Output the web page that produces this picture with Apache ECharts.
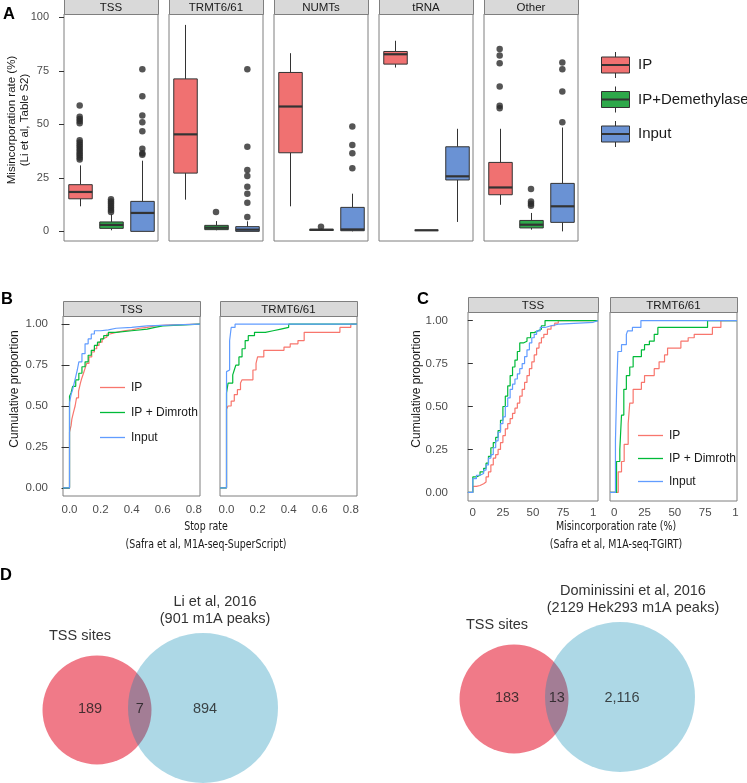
<!DOCTYPE html>
<html><head><meta charset="utf-8">
<script src="https://cdn.jsdelivr.net/npm/echarts@6/dist/echarts.min.js"></script>
<style>html,body{margin:0;padding:0;background:#fff}#c{width:747px;height:783px}</style>
</head><body><div id="c"></div><script>
// ---------- Panel A data ----------
const facetsA = ['TSS', 'TRMT6/61', 'NUMTs', 'tRNA', 'Other'];
const groupsA = ['IP', 'IP+Demethylase', 'Input'];
// [lower whisker, Q1, median, Q3, upper whisker] for IP, IP+Demethylase, Input
const boxTSS   = [[11.7, 15.2, 18.4, 21.8, 30.8], [0.5, 1.4, 3.0, 4.4, 8.0], [0, 0, 8.6, 14.0, 33.0]];
const boxTRMT  = [[14.8, 27.2, 45.3, 71.2, 96.4], [0.5, 0.8, 1.7, 2.8, 4.8], [0, 0, 0.8, 2.2, 4.7]];
const boxNUMT  = [[11.7, 36.7, 58.3, 74.2, 83.2], [0.2, 0.4, 0.7, 1.0, 1.3], [0, 0.3, 0.9, 11.2, 17.6]];
const boxTRNA  = [[76.5, 78.1, 82.7, 84.0, 89.0], [0.5, 0.5, 0.5, 0.5, 0.5], [4.4, 24.0, 25.7, 39.5, 47.9]];
const boxOther = [[12.4, 17.1, 20.5, 32.2, 47.9], [0.8, 1.6, 3.1, 5.1, 8.6], [0, 4.2, 11.7, 22.4, 48.5]];
const outTSS   = [[58.8, 53.5, 52.5, 51.5, 50.5, 42.5, 41.5, 40.5, 39.5, 38.5, 37.5, 36.5, 35.5, 34.5, 33.5], [15, 14, 13, 12, 11, 10, 9], [75.7, 63.1, 54.1, 50.9, 46.7, 38.6, 36.5, 35.8]];
const outTRMT  = [[], [9.0], [75.7, 39.5, 28.6, 25.8, 20.8, 17.6, 13.4, 6.7]];
const outNUMT  = [[], [2.2], [49.0, 40.3, 36.5, 29.5]];
const outTRNA  = [[], [], []];
const outOther = [[85.1, 82.1, 78.5, 67.7, 58.6, 57.5], [19.8, 14.0, 12.9, 12.0], [78.8, 75.7, 65.3, 50.9]];
const ticksA = [0, 25, 50, 75, 100];
const yTitleA = 'Misincorporation rate (%)\n(Li et al, Table S2)';

// ---------- Panels B & C data ----------
const facetsBC = ['TSS', 'TRMT6/61'];
const linesBC = ['IP', 'IP + Dimroth', 'Input'];
const bTssIP = [[0,0.34],[0.01,0.38],[0.015,0.42],[0.025,0.46],[0.036,0.5],[0.045,0.55],[0.058,0.59],[0.07,0.64],[0.079,0.67],[0.09,0.7],[0.1,0.73],[0.11,0.76],[0.125,0.8],[0.143,0.83],[0.16,0.85],[0.175,0.87],[0.19,0.89],[0.21,0.91],[0.22,0.92],[0.24,0.94],[0.26,0.95],[0.3,0.96],[0.35,0.965],[0.4,0.975],[0.45,0.98],[0.5,0.99],[0.55,0.995],[0.62,1.0]];
const bTssDim = [[0,0.56],[0.01,0.58],[0.02,0.62],[0.04,0.66],[0.06,0.7],[0.08,0.74],[0.1,0.77],[0.12,0.81],[0.14,0.84],[0.16,0.87],[0.18,0.89],[0.2,0.91],[0.22,0.93],[0.25,0.95],[0.3,0.96],[0.4,0.97],[0.5,0.98],[0.55,0.99],[0.6,1.0]];
const bTssInput = [[0,0.52],[0.01,0.57],[0.02,0.6],[0.03,0.64],[0.04,0.68],[0.05,0.72],[0.06,0.77],[0.08,0.82],[0.1,0.88],[0.12,0.91],[0.14,0.94],[0.16,0.96],[0.2,0.965],[0.25,0.975],[0.3,0.98],[0.4,0.985],[0.45,0.99],[0.5,1.0]];
const bTrmtIP = [[0,0.48],[0.01,0.5],[0.03,0.53],[0.05,0.57],[0.07,0.6],[0.09,0.64],[0.1,0.66],[0.17,0.72],[0.19,0.76],[0.2,0.8],[0.24,0.84],[0.37,0.86],[0.41,0.88],[0.46,0.9],[0.5,0.95],[0.73,0.98],[0.8,1.0]];
const bTrmtDim = [[0,0.58],[0.01,0.64],[0.04,0.69],[0.05,0.72],[0.06,0.75],[0.08,0.8],[0.1,0.85],[0.12,0.9],[0.14,0.93],[0.18,0.95],[0.25,0.96],[0.3,0.97],[0.35,0.98],[0.4,1.0]];
const bTrmtInput = [[0,0.71],[0.01,0.72],[0.02,0.9],[0.03,0.98],[0.055,1.0]];
const cTssIP = [[0,0.035],[3,0.04],[6,0.05],[9,0.06],[11,0.09],[13,0.12],[15,0.16],[17,0.2],[19,0.22],[21,0.25],[23,0.29],[25,0.33],[27,0.37],[29,0.4],[31,0.43],[33,0.46],[35,0.49],[37,0.52],[39,0.56],[41,0.6],[43,0.64],[45,0.68],[47,0.72],[49,0.76],[51,0.8],[53,0.84],[55,0.87],[57,0.9],[59,0.92],[62,0.95],[65,0.97],[68,0.985],[71,1.0]];
const cTssDim = [[0,0.09],[3,0.1],[6,0.12],[9,0.14],[11,0.17],[13,0.21],[15,0.26],[17,0.29],[19,0.32],[21,0.36],[23,0.42],[25,0.5],[27,0.56],[29,0.62],[31,0.68],[33,0.73],[35,0.77],[37,0.82],[39,0.87],[42,0.88],[45,0.9],[48,0.93],[51,0.94],[54,0.95],[57,0.97],[60,1.0]];
const cTssInput = [[0,0.08],[3,0.1],[6,0.11],[9,0.13],[11,0.16],[13,0.2],[15,0.22],[17,0.26],[19,0.3],[21,0.35],[23,0.4],[25,0.44],[27,0.5],[29,0.55],[31,0.6],[33,0.63],[35,0.66],[37,0.69],[39,0.72],[41,0.75],[43,0.79],[45,0.83],[47,0.87],[49,0.9],[51,0.92],[53,0.94],[56,0.96],[60,0.97],[65,0.98],[72,0.99],[100,1.0]];
const cTrmtIP = [[3.3,0.12],[6,0.18],[8.2,0.28],[11.5,0.4],[12.8,0.52],[15.6,0.6],[22.4,0.64],[25,0.68],[33,0.72],[37,0.76],[41.5,0.8],[44,0.84],[55,0.88],[61,0.9],[66,0.92],[81,0.96],[88,1.0]];
const cTrmtDim = [[1.9,0.18],[4.6,0.25],[6,0.45],[7.9,0.6],[10,0.68],[12.8,0.73],[15.6,0.79],[22.4,0.83],[25,0.86],[29,0.88],[33,0.92],[36,0.96],[77,1.0]];
const cTrmtInput = [[1,0.3],[2,0.6],[3,0.82],[6,0.86],[10,0.92],[11,0.94],[15,0.96],[22,1.0]];
const ticksBx = [0, 0.2, 0.4, 0.6, 0.8];
const ticksCx = [0, 25, 50, 75, 100];
const ticksCxLabels = ['0', '25', '50', '75', '1'];
const ticksProp = [0, 0.25, 0.5, 0.75, 1];
const yTitleBC = 'Cumulative proportion';
const xTitleB = 'Stop rate\n(Safra et al, M1A-seq-SuperScript)';
const xTitleC = 'Misincorporation rate (%)\n(Safra et al, M1A-seq-TGIRT)';

// ---------- Panel D data ----------
const vennSetsL = ['TSS sites', 'Li et al, 2016\n(901 m1A peaks)'];
const vennCountsL = [189, 7, 894];
const vennSetsR = ['TSS sites', 'Dominissini et al, 2016\n(2129 Hek293 m1A peaks)'];
const vennCountsR = [183, 13, 2116];

const panelLetters = ['A', 'B', 'C', 'D'];

// ---------- styling / layout ----------
const FONT = "'Liberation Sans', Arial, Helvetica, sans-serif";
const NARROW = "'Liberation Sans Narrow', 'DejaVu Sans Condensed', 'Arial Narrow', sans-serif";
const fillA = ['#F07171', '#2EA84A', '#6A92D4'];
const lineColors = ['#F8766D', '#00BA38', '#619CFF'];
const BORDER = '#7f7f7f';

const grids = [], xAxes = [], yAxes = [], series = [], graphics = [];

function strip(x, y, w, h, label) {
  return { type: 'group', children: [
    { type: 'rect', shape: { x: x + 0.5, y: y + 0.5, width: w, height: h }, style: { fill: '#d9d9d9', stroke: BORDER, lineWidth: 1 } },
    { type: 'text', x: x + w / 2, y: y + h / 2 + 1, style: { text: label, fontSize: 11.5, fill: '#1a1a1a', align: 'center', verticalAlign: 'middle', fontFamily: FONT } }
  ] };
}

function renderBox(params, api) {
  const k = api.value(0);
  const lo = api.coord([k, api.value(1)]);
  const q1 = api.coord([k, api.value(2)]);
  const md = api.coord([k, api.value(3)]);
  const q3 = api.coord([k, api.value(4)]);
  const hi = api.coord([k, api.value(5)]);
  const bw = api.size([1, 0])[0] * 0.75;
  const x = Math.round(lo[0]) + 0.5;
  const line = (x1, y1, x2, y2, w) => ({ type: 'line', shape: { x1, y1, x2, y2 }, style: { stroke: '#333', lineWidth: w } });
  return { type: 'group', children: [
    line(x, lo[1], x, q1[1], 1),
    line(x, q3[1], x, hi[1], 1),
    { type: 'rect', shape: { x: x - bw / 2, y: q3[1], width: bw, height: Math.max(q1[1] - q3[1], 0) }, style: { fill: fillA[k], stroke: '#333', lineWidth: 1 } },
    line(x - bw / 2, md[1], x + bw / 2, md[1], 2.2)
  ] };
}

// Panel A
const boxesA = [boxTSS, boxTRMT, boxNUMT, boxTRNA, boxOther];
const outliersA = [outTSS, outTRMT, outNUMT, outTRNA, outOther];
for (let i = 0; i < facetsA.length; i++) {
  const gi = grids.length;
  const left = 64 + i * 105, width = 94;
  grids.push({ left, top: 14, width, height: 227, show: true, borderColor: BORDER, borderWidth: 1, backgroundColor: '#fff' });
  xAxes.push({ type: 'category', gridIndex: gi, data: groupsA, show: false });
  yAxes.push({ type: 'value', gridIndex: gi, min: -4.5, max: 101.5, show: i === 0,
    axisLine: { show: false }, splitLine: { show: false },
    axisTick: { show: true, customValues: ticksA, length: 5, lineStyle: { color: '#333' } },
    axisLabel: { customValues: ticksA, margin: 15, fontSize: 11, color: '#4d4d4d', fontFamily: FONT } });
  series.push({ type: 'custom', xAxisIndex: gi, yAxisIndex: gi, renderItem: renderBox,
    data: boxesA[i].map((b, k) => [k, ...b]), encode: { x: 0, y: [1, 2, 3, 4, 5] }, z: 2, silent: true });
  series.push({ type: 'scatter', xAxisIndex: gi, yAxisIndex: gi,
    data: outliersA[i].flatMap((arr, k) => arr.map(v => [k, v])), symbolSize: 6.5,
    itemStyle: { color: '#2b2b2b' }, z: 3, silent: true });
  graphics.push(strip(left, -1, width, 15, facetsA[i]));
}

// Legend A
groupsA.forEach((g, i) => {
  const cy = 65 + 34.5 * i;
  graphics.push({ type: 'group', children: [
    { type: 'line', shape: { x1: 615.5, y1: cy - 13, x2: 615.5, y2: cy + 13 }, style: { stroke: '#333', lineWidth: 1 } },
    { type: 'rect', shape: { x: 601.5, y: cy - 8, width: 28, height: 16 }, style: { fill: fillA[i], stroke: '#333', lineWidth: 1 } },
    { type: 'line', shape: { x1: 601.5, y1: cy, x2: 629.5, y2: cy }, style: { stroke: '#333', lineWidth: 2 } },
    { type: 'text', x: 638, y: cy, style: { text: g, fontSize: 15, fill: '#1a1a1a', verticalAlign: 'middle', fontFamily: FONT } }
  ] });
});

// Panels B & C
function ecdf(arr, xmin, xmax) {
  return [[xmin, 0], ...arr, [xmax, arr[arr.length - 1][1]]];
}
const panelsBC = [
  { left: 63, width: 137, top: 316, height: 180, xr: [-0.042, 0.84], data: [bTssIP, bTssDim, bTssInput], ticks: ticksBx, fmt: v => v.toFixed(1), strip: 301, first: true, tickLen: 8, tickMargin: 15, yOffset: 0, xMargin: 8 },
  { left: 220, width: 137, top: 316, height: 180, xr: [-0.042, 0.84], data: [bTrmtIP, bTrmtDim, bTrmtInput], ticks: ticksBx, fmt: v => v.toFixed(1), strip: 301, first: false, xMargin: 8 },
  { left: 468, width: 130, top: 312, height: 189, xr: [-4, 104], data: [cTssIP, cTssDim, cTssInput], ticks: ticksCx, fmt: v => ticksCxLabels[ticksCx.indexOf(v)], strip: 297, first: true, tickLen: 5, tickMargin: 17, yOffset: 3, xMargin: 6 },
  { left: 610, width: 127, top: 312, height: 189, xr: [-3.5, 101.3], data: [cTrmtIP, cTrmtDim, cTrmtInput], ticks: ticksCx, fmt: v => ticksCxLabels[ticksCx.indexOf(v)], strip: 297, first: false, xMargin: 6 }
];
panelsBC.forEach((p, pi) => {
  const gi = grids.length;
  grids.push({ left: p.left, top: p.top, width: p.width, height: p.height, show: true, borderColor: BORDER, borderWidth: 1, backgroundColor: '#fff' });
  xAxes.push({ type: 'value', gridIndex: gi, min: p.xr[0], max: p.xr[1],
    axisLine: { show: false }, axisTick: { show: false }, splitLine: { show: false },
    axisLabel: { customValues: p.ticks, formatter: p.fmt, margin: p.xMargin, fontSize: 11.5, color: '#4d4d4d', fontFamily: FONT } });
  yAxes.push({ type: 'value', gridIndex: gi, min: -0.05, max: 1.05, show: p.first, offset: p.yOffset || 0,
    axisLine: { show: false }, splitLine: { show: false },
    axisTick: { show: true, customValues: ticksProp, length: p.tickLen || 5, lineStyle: { color: '#333' } },
    axisLabel: { customValues: ticksProp, formatter: v => v.toFixed(2), margin: p.tickMargin || 8, fontSize: 11.5, color: '#4d4d4d', fontFamily: FONT } });
  p.data.forEach((arr, k) => {
    series.push({ type: 'line', name: linesBC[k], xAxisIndex: gi, yAxisIndex: gi, step: 'end', showSymbol: false,
      data: ecdf(arr, p.xr[0], p.xr[1]), lineStyle: { color: lineColors[k], width: 1.2 }, itemStyle: { color: lineColors[k] },
      silent: true, clip: true, z: 2 });
  });
  graphics.push(strip(p.left, p.strip, p.width, p.top - p.strip, facetsBC[pi % 2]));
});

// legends B & C
function lineLegend(x0, ys, size) {
  linesBC.forEach((n, i) => {
    graphics.push({ type: 'line', shape: { x1: x0, y1: ys[i] + 0.5, x2: x0 + 25, y2: ys[i] + 0.5 }, style: { stroke: lineColors[i], lineWidth: 1.3 } });
    graphics.push({ type: 'text', x: x0 + 31, y: ys[i] + 0.5, style: { text: n, fontSize: size, fill: '#1a1a1a', verticalAlign: 'middle', fontFamily: FONT } });
  });
}
lineLegend(100, [387, 412, 437], 12);
lineLegend(638, [435, 458, 481], 12);

// Axis titles
function txt(text, x, y, size, opts) {
  return Object.assign({ type: 'text', x, y, style: Object.assign({ text, fontSize: size, fill: '#1a1a1a', align: 'center', verticalAlign: 'middle', fontFamily: FONT }, opts && opts.style || {}) }, opts && opts.el || {});
}
graphics.push(txt(yTitleA, 18, 120, 11.5, { el: { rotation: Math.PI / 2 }, style: { lineHeight: 13 } }));
graphics.push(txt(yTitleBC, 15, 389, 12, { el: { rotation: Math.PI / 2 } }));
graphics.push(txt(yTitleBC, 417, 389, 12, { el: { rotation: Math.PI / 2 } }));
graphics.push(txt(xTitleB, 206, 536, 10.5, { el: { scaleY: 1.25 }, style: { fontFamily: NARROW, lineHeight: 14.5 } }));
graphics.push(txt(xTitleC, 616, 536, 10.5, { el: { scaleY: 1.25 }, style: { fontFamily: NARROW, lineHeight: 14.5 } }));

// Panel letters
[[3, 6], [1, 291], [417, 291], [0, 567]].forEach((pos, i) => {
  graphics.push({ type: 'text', x: pos[0], y: pos[1], style: { text: panelLetters[i], fontSize: 16.5, fontWeight: 'bold', fill: '#000', verticalAlign: 'top', fontFamily: FONT } });
});

// Panel D: Venn diagrams (hidden 1px-per-unit value grids)
const VENN = { rA: 54.5, rB: 75, dx: 106, dy: -2 };
const vennDefs = [
  { left: 0, top: 600, sets: vennSetsL, counts: vennCountsL, offA: -17, offB: 12 },
  { left: 417, top: 589, sets: vennSetsR, counts: vennCountsR, offA: -17, offB: 13 }
];
vennDefs.forEach(v => {
  const gi = grids.length;
  grids.push({ left: v.left, top: v.top, width: 320, height: 183 });
  xAxes.push({ type: 'value', gridIndex: gi, min: -97, max: 223, show: false });
  yAxes.push({ type: 'value', gridIndex: gi, min: -110, max: 73, inverse: true, show: false });
  series.push({ type: 'scatter', xAxisIndex: gi, yAxisIndex: gi, silent: true, z: 2,
    data: [
      { name: v.sets[0], value: [0, 0], symbolSize: 2 * VENN.rA, itemStyle: { color: '#F07A88', opacity: 1 },
        label: { show: true, position: 'top', distance: 12, offset: [v.offA, 0], formatter: '{b}', fontSize: 14.5, color: '#333', fontFamily: FONT } },
      { name: v.sets[1], value: [VENN.dx, VENN.dy], symbolSize: 2 * VENN.rB, itemStyle: { color: 'rgba(0,134,178,0.32)', opacity: 1 },
        label: { show: true, position: 'top', distance: 6, offset: [v.offB, 0], formatter: '{b}', fontSize: 14.5, lineHeight: 17, color: '#333', fontFamily: FONT } }
    ] });
  const lensMid = ((VENN.dx - VENN.rB) + VENN.rA) / 2;
  series.push({ type: 'scatter', xAxisIndex: gi, yAxisIndex: gi, silent: true, z: 4, symbolSize: 1,
    itemStyle: { color: 'rgba(0,0,0,0)' },
    label: { show: true, position: 'inside', formatter: p => Number(p.value[2]).toLocaleString('en-US'), fontSize: 14.5, color: '#1a1a1a', fontFamily: FONT },
    data: [[-7, -1, v.counts[0]], [lensMid, -1, v.counts[1]], [VENN.dx + 2, -1, v.counts[2]]] });
});

const chart = echarts.init(document.getElementById('c'), null, { renderer: 'canvas' });
chart.setOption({
  animation: false,
  backgroundColor: '#fff',
  textStyle: { fontFamily: FONT },
  grid: grids, xAxis: xAxes, yAxis: yAxes, series, graphic: graphics
});
</script></body></html>
